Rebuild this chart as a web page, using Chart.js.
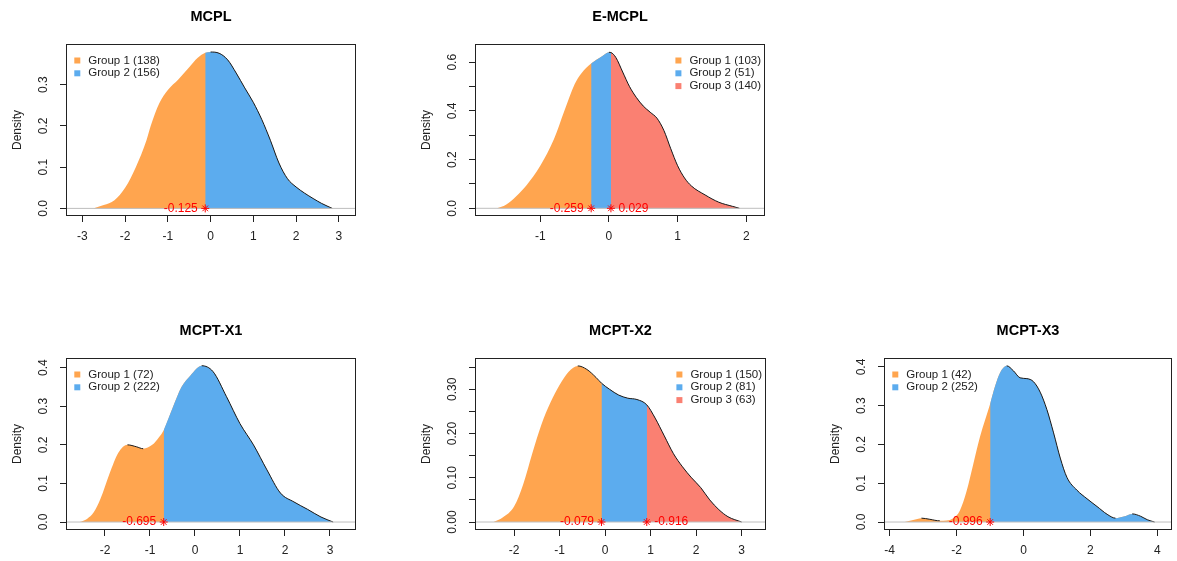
<!DOCTYPE html>
<html><head><meta charset="utf-8">
<script src="https://cdn.jsdelivr.net/npm/chart.js@4.4.1/dist/chart.umd.min.js"></script>
<style>
html,body{margin:0;padding:0;background:#fff;overflow:hidden;}
#wrap{position:relative;width:1177px;height:561px;background:#fff;overflow:hidden;}
#wrap canvas{position:absolute;}
</style></head><body><div id="wrap"></div>
<script>
// ---------------- data ----------------
const panelTitles = ['MCPL', 'E-MCPL', 'MCPT-X1', 'MCPT-X2', 'MCPT-X3'];

const mcplX = [-2.75,-2.5,-2.25,-2.0,-1.75,-1.5,-1.4,-1.2,-1.0,-0.75,-0.5,-0.3,-0.125,0.0,0.2,0.4,0.6,0.8,1.0,1.2,1.4,1.6,1.8,2.0,2.2,2.4,2.6,2.85];
const mcplDensity = [0,0.008,0.02,0.05,0.1,0.165,0.2,0.255,0.287,0.313,0.342,0.365,0.377,0.379,0.376,0.36,0.328,0.292,0.257,0.215,0.165,0.11,0.072,0.052,0.037,0.024,0.012,0];
const mcplGroups = ['Group 1 (138)', 'Group 2 (156)'];
const mcplCuts = [-0.125];
const mcplCutLabels = ['-0.125'];

const emcplX = [-1.63,-1.5,-1.35,-1.2,-1.0,-0.8,-0.65,-0.5,-0.4,-0.259,-0.1,0.0,0.029,0.1,0.2,0.3,0.4,0.5,0.6,0.7,0.8,0.9,1.0,1.1,1.2,1.4,1.6,1.8,1.9];
const emcplDensity = [0,0.015,0.05,0.095,0.175,0.285,0.4,0.51,0.555,0.595,0.625,0.641,0.64,0.62,0.56,0.5,0.455,0.42,0.395,0.37,0.32,0.245,0.175,0.125,0.092,0.055,0.025,0.008,0];
const emcplGroups = ['Group 1 (103)', 'Group 2 (51)', 'Group 3 (140)'];
const emcplCuts = [-0.259, 0.029];
const emcplCutLabels = ['-0.259', '0.029'];

const x1X = [-2.56,-2.4,-2.25,-2.1,-1.9,-1.7,-1.5,-1.3,-1.15,-0.95,-0.8,-0.695,-0.5,-0.3,-0.1,0.15,0.4,0.7,1.0,1.3,1.6,1.9,2.2,2.5,2.8,3.07];
const x1Density = [0,0.008,0.025,0.06,0.125,0.18,0.2,0.195,0.19,0.2,0.22,0.238,0.295,0.35,0.38,0.405,0.39,0.325,0.255,0.2,0.135,0.075,0.052,0.033,0.013,0];
const x1Groups = ['Group 1 (72)', 'Group 2 (222)'];
const x1Cuts = [-0.695];
const x1CutLabels = ['-0.695'];

const x2X = [-2.45,-2.25,-2.0,-1.8,-1.6,-1.4,-1.2,-1.0,-0.8,-0.6,-0.4,-0.2,-0.079,0.1,0.3,0.5,0.7,0.916,1.1,1.3,1.5,1.7,1.9,2.1,2.3,2.5,2.7,3.0];
const x2Density = [0,0.01,0.035,0.085,0.155,0.22,0.27,0.31,0.34,0.353,0.345,0.327,0.314,0.3,0.287,0.28,0.277,0.265,0.235,0.195,0.155,0.125,0.1,0.078,0.05,0.028,0.012,0];
const x2Groups = ['Group 1 (150)', 'Group 2 (81)', 'Group 3 (63)'];
const x2Cuts = [-0.079, 0.916];
const x2CutLabels = ['-0.079', '-0.916'];

const x3X = [-3.55,-3.3,-3.05,-2.8,-2.5,-2.3,-2.1,-1.9,-1.7,-1.5,-1.3,-0.996,-0.85,-0.7,-0.5,-0.3,-0.1,0.1,0.3,0.5,0.7,0.9,1.1,1.3,1.6,1.9,2.2,2.5,2.75,3.0,3.25,3.5,3.7,3.92];
const x3Density = [0,0.005,0.01,0.007,0.003,0.004,0.01,0.03,0.08,0.15,0.22,0.305,0.35,0.385,0.403,0.39,0.372,0.37,0.362,0.335,0.29,0.23,0.165,0.115,0.082,0.06,0.04,0.02,0.01,0.014,0.021,0.015,0.006,0];
const x3Groups = ['Group 1 (42)', 'Group 2 (252)'];
const x3Cuts = [-0.996];
const x3CutLabels = ['-0.996'];

const xTicksA = [-3,-2,-1,0,1,2,3];
const xTicksB = [-1,0,1,2];
const xTicksC = [-2,-1,0,1,2,3];
const xTicksD = [-4,-2,0,2,4];
const yTicksA = [0,0.1,0.2,0.3];
const yTicksB = [0,0.1,0.2,0.3,0.4,0.5,0.6];
const yTicksBLabels = ['0.0','','0.2','','0.4','','0.6'];
const yTicksC = [0,0.1,0.2,0.3,0.4];
const yTicksD = [0,0.05,0.10,0.15,0.20,0.25,0.30,0.35];
const yTicksDLabels = ['0.00','','0.10','','0.20','','0.30',''];

const groupColors = ['#FFA54F', '#5CACEE', '#FA8072'];

// ---------------- assembly ----------------
const panels = [
  {xs: mcplX, ys: mcplDensity, groups: mcplGroups, cuts: mcplCuts, cutLabels: mcplCutLabels, cutSides: ['left'],
   xTicks: xTicksA, yTicks: yTicksA, yLabels: yTicksA.map(v => v.toFixed(1)), legend: 'topleft'},
  {xs: emcplX, ys: emcplDensity, groups: emcplGroups, cuts: emcplCuts, cutLabels: emcplCutLabels, cutSides: ['left','right'],
   xTicks: xTicksB, yTicks: yTicksB, yLabels: yTicksBLabels, legend: 'topright'},
  {xs: x1X, ys: x1Density, groups: x1Groups, cuts: x1Cuts, cutLabels: x1CutLabels, cutSides: ['left'],
   xTicks: xTicksC, yTicks: yTicksC, yLabels: yTicksC.map(v => v.toFixed(1)), legend: 'topleft'},
  {xs: x2X, ys: x2Density, groups: x2Groups, cuts: x2Cuts, cutLabels: x2CutLabels, cutSides: ['left','right'],
   xTicks: xTicksC, yTicks: yTicksD, yLabels: yTicksDLabels, legend: 'topright'},
  {xs: x3X, ys: x3Density, groups: x3Groups, cuts: x3Cuts, cutLabels: x3CutLabels, cutSides: ['left'],
   xTicks: xTicksD, yTicks: yTicksC, yLabels: yTicksC.map(v => v.toFixed(1)), legend: 'topleft'}
];

// plot-box placement (page px) and axis ranges
const boxes = [
  {left: 67,  top: 45,  right: 355,  bottom: 215, xmin: -3.36,  xmax: 3.38,  ymin: -0.016,  ymax: 0.396},
  {left: 476, top: 45,  right: 764,  bottom: 215, xmin: -1.936, xmax: 2.258, ymin: -0.0275, ymax: 0.671},
  {left: 67,  top: 359, right: 355,  bottom: 529, xmin: -2.844, xmax: 3.556, ymin: -0.0181, ymax: 0.4225},
  {left: 476, top: 359, right: 765,  bottom: 529, xmin: -2.836, xmax: 3.514, ymin: -0.0158, ymax: 0.3686},
  {left: 885, top: 359, right: 1171, bottom: 529, xmin: -4.14,  xmax: 4.41,  ymin: -0.018,  ymax: 0.4206}
];

const FONT = '"Liberation Sans", Arial, Helvetica, sans-serif';
const INK = '#222222';
Chart.defaults.font.family = FONT;
const ML = 70, MT = 50, MR = 20, MB = 50, YW = 40, XH = 40, TL = 7;
const wrap = document.getElementById('wrap');
const meas = document.createElement('canvas').getContext('2d');

panels.forEach((p, k) => {
  const b = boxes[k];
  const w = b.right - b.left, h = b.bottom - b.top;
  const cv = document.createElement('canvas');
  cv.width = w + ML + MR; cv.height = h + MT + MB;
  cv.style.left = (b.left - ML) + 'px'; cv.style.top = (b.top - MT) + 'px';
  cv.style.width = cv.width + 'px'; cv.style.height = cv.height + 'px';
  wrap.appendChild(cv);

  meas.font = '12px ' + FONT;
  const widest = Math.max(...p.yLabels.map(s => meas.measureText(s).width));
  const yPad = 23.5 - TL - widest / 2;

  const allPts = p.xs.map((x, j) => ({x: x, y: p.ys[j]}));
  const datasets = [];
  // group fills: each group fills from its lower cut to the end; later groups drawn on top
  p.groups.forEach((g, i) => {
    const lo = i === 0 ? -Infinity : p.cuts[i - 1];
    const pts = allPts.filter(pt => pt.x >= lo - 1e-9);
    const col = groupColors[i];
    datasets.push({
      type: 'line', data: pts, fill: 'origin', backgroundColor: col, borderColor: col,
      borderWidth: 0, pointRadius: 0, cubicInterpolationMode: 'monotone', order: 20 - i
    });
  });
  // curve outline (dark on falling stretches)
  datasets.push({
    type: 'line', data: allPts, fill: false, borderWidth: 1, pointRadius: 0,
    cubicInterpolationMode: 'monotone', order: 5, borderColor: 'rgba(0,0,0,0)',
    segment: {borderColor: c => (c.p1.parsed.y < c.p0.parsed.y - 1e-4 ? '#1a1a1a' : 'rgba(0,0,0,0)')}
  });
  datasets.push({type: 'line', data: [{x: b.xmin, y: 0}, {x: b.xmax, y: 0}], borderColor: '#BEBEBE',
    borderWidth: 1, pointRadius: 0, fill: false, order: 2});
  datasets.push({type: 'scatter', data: p.cuts.map(c => ({x: c, y: 0})), pointStyle: 'star', pointRadius: 4,
    borderColor: '#FF0000', backgroundColor: '#FF0000', borderWidth: 1, order: 1, clip: false});

  const deco = {
    id: 'deco' + k,
    afterDraw(chart) {
      const ctx = chart.ctx, a = chart.chartArea, xs = chart.scales.x, ys = chart.scales.y;
      ctx.save();
      ctx.strokeStyle = INK; ctx.lineWidth = 1;
      ctx.strokeRect(a.left - 0.5, a.top - 0.5, a.right - a.left + 1, a.bottom - a.top + 1);
      ctx.fillStyle = '#000'; ctx.font = 'bold 14.5px ' + FONT;
      ctx.textAlign = 'center'; ctx.textBaseline = 'middle';
      ctx.fillText(panelTitles[k], (a.left + a.right) / 2, a.top - 28);
      ctx.save();
      ctx.translate(a.left - 49.5, (a.top + a.bottom) / 2);
      ctx.rotate(-Math.PI / 2);
      ctx.font = '12px ' + FONT; ctx.fillStyle = INK;
      ctx.fillText('Density', 0, 0);
      ctx.restore();
      ctx.font = '12px ' + FONT; ctx.fillStyle = '#FF0000'; ctx.textBaseline = 'middle';
      p.cuts.forEach((c, i) => {
        const px = xs.getPixelForValue(c), py = ys.getPixelForValue(0);
        if (p.cutSides[i] === 'left') { ctx.textAlign = 'right'; ctx.fillText(p.cutLabels[i], px - 7.5, py); }
        else { ctx.textAlign = 'left'; ctx.fillText(p.cutLabels[i], px + 7.5, py); }
      });
      ctx.font = '11.5px ' + FONT;
      const rowH = 12.8, y0 = a.top + 15.5;
      let sqX, txX;
      if (p.legend === 'topleft') { sqX = a.left + 10.3; txX = a.left + 21.3; }
      else {
        const mw = Math.max(...p.groups.map(s => ctx.measureText(s).width));
        txX = a.right - 3 - mw; sqX = txX - 11;
      }
      p.groups.forEach((g, i) => {
        const y = y0 + i * rowH;
        ctx.fillStyle = groupColors[i];
        ctx.fillRect(sqX - 3, y - 3, 6, 6);
        ctx.fillStyle = INK; ctx.textAlign = 'left'; ctx.textBaseline = 'middle';
        ctx.fillText(g, txX, y);
      });
      ctx.restore();
    }
  };

  new Chart(cv, {
    data: {datasets: datasets},
    options: {
      responsive: false, maintainAspectRatio: false, animation: false, events: [],
      devicePixelRatio: 1,
      layout: {padding: {left: ML - YW, top: MT, right: MR, bottom: MB - XH}},
      plugins: {legend: {display: false}, tooltip: {enabled: false}, title: {display: false}},
      scales: {
        x: {
          type: 'linear', min: b.xmin, max: b.xmax,
          afterBuildTicks: s => { s.ticks = p.xTicks.map(v => ({value: v})); },
          afterFit: s => { s.height = XH; s.paddingLeft = 0; s.paddingRight = 0; },
          ticks: {autoSkip: false, minRotation: 0, maxRotation: 0, padding: 7, color: INK,
            font: {size: 12, family: FONT}, callback: (v, i) => String(p.xTicks[i])},
          grid: {drawOnChartArea: false, drawTicks: true, tickLength: TL, color: INK, lineWidth: 1},
          border: {display: false}
        },
        y: {
          type: 'linear', min: b.ymin, max: b.ymax,
          afterBuildTicks: s => { s.ticks = p.yTicks.map(v => ({value: v})); },
          afterFit: s => { s.width = YW; s.paddingTop = 0; s.paddingBottom = 0; },
          ticks: {autoSkip: false, minRotation: 90, maxRotation: 90, crossAlign: 'center', padding: yPad,
            color: INK, font: {size: 12, family: FONT}, callback: (v, i) => p.yLabels[i]},
          grid: {drawOnChartArea: false, drawTicks: true, tickLength: TL, color: INK, lineWidth: 1},
          border: {display: false}
        }
      }
    },
    plugins: [deco]
  });
});
</script></body></html>
